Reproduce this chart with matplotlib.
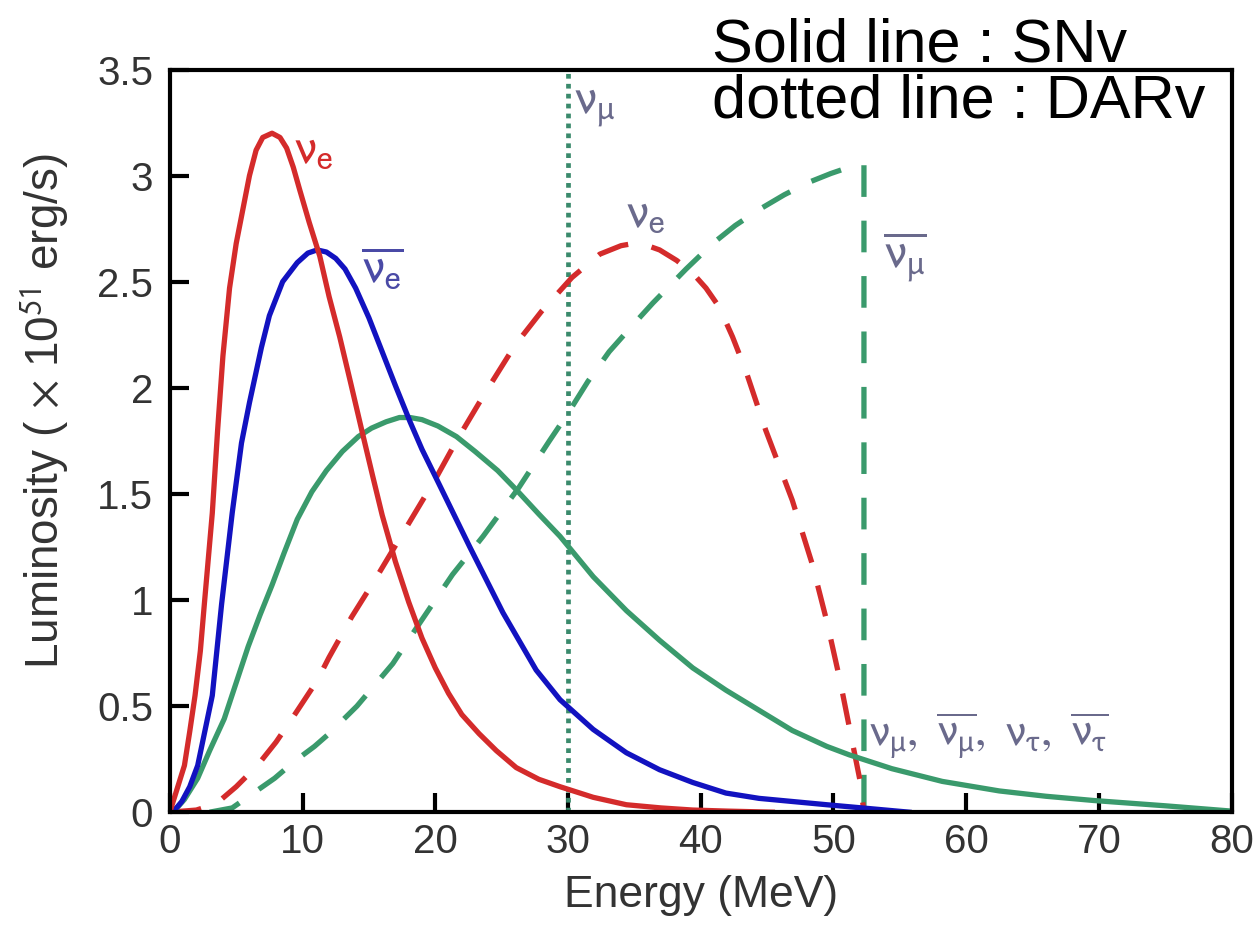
import matplotlib.pyplot as plt

plt.rcParams['font.family'] = ['Liberation Sans', 'DejaVu Sans']
plt.rcParams['mathtext.fontset'] = 'stixsans'

# supernova neutrinos (solid)
sn_nue_E = [0, 0.15, 0.6, 1.1, 1.5, 1.9, 2.3, 2.6, 3.2, 3.6, 4.0, 4.5, 5.0, 5.5, 6.0, 6.5, 7.0, 7.7,
            8.3, 8.8, 9.3, 9.8, 10.5, 11.3, 12.0, 12.8, 13.6, 14.5, 15.3, 16.0, 17.0, 18.0, 19.0, 20.0,
            21.0, 22.0, 23.3, 24.6, 26.1, 27.8, 29.4, 31.9, 34.4, 37, 39.4, 42, 45.4]
sn_nue_L = [0, 0.03, 0.12, 0.22, 0.38, 0.55, 0.76, 0.98, 1.41, 1.80, 2.15, 2.47, 2.68, 2.84, 3.0, 3.12, 3.18, 3.20,
            3.18, 3.13, 3.04, 2.93, 2.78, 2.62, 2.43, 2.24, 2.03, 1.79, 1.58, 1.40, 1.18, 0.99, 0.82, 0.68,
            0.56, 0.46, 0.37, 0.29, 0.21, 0.155, 0.12, 0.07, 0.035, 0.02, 0.01, 0.005, 0]

sn_nuebar_E = [0, 0.5, 0.9, 1.5, 2.1, 2.6, 3.2, 3.9, 4.7, 5.4, 6.0, 6.9, 7.5, 8.5, 9.6, 10.4, 11.1, 11.8,
               12.5, 13.2, 14.0, 15.0, 16.0, 17.0, 18.1, 19.0, 20.1, 22.6, 25.1, 27.6, 29.4, 31.9, 34.4,
               36.9, 39.4, 41.9, 44.4, 49.5, 55.7]
sn_nuebar_L = [0, 0.02, 0.05, 0.12, 0.22, 0.37, 0.55, 0.98, 1.41, 1.74, 1.93, 2.19, 2.34, 2.50, 2.59, 2.635, 2.65, 2.64,
               2.61, 2.56, 2.47, 2.33, 2.17, 2.01, 1.84, 1.71, 1.57, 1.25, 0.94, 0.67, 0.53, 0.39, 0.28,
               0.20, 0.14, 0.09, 0.065, 0.035, 0]

sn_nux_E = [0, 0.4, 1.1, 2.1, 3.0, 4.1, 5.0, 5.9, 6.8, 7.7, 8.6, 9.6, 10.7, 11.8, 13.0, 14.2, 15.2, 16.3,
            17.3, 18.1, 19.0, 20.2, 21.6, 23.0, 24.7, 26.1, 27.8, 29.4, 31.9, 34.4, 36.9, 39.4, 41.9, 44.4,
            46.9, 49.5, 51.2, 54.4, 58.2, 62.5, 66, 69.6, 75, 80]
sn_nux_L = [0, 0.01, 0.06, 0.16, 0.29, 0.44, 0.61, 0.78, 0.93, 1.07, 1.22, 1.38, 1.51, 1.61, 1.70, 1.77, 1.81, 1.84,
            1.86, 1.86, 1.85, 1.82, 1.77, 1.70, 1.61, 1.52, 1.405, 1.30, 1.11, 0.95, 0.81, 0.68, 0.575, 0.48,
            0.385, 0.31, 0.27, 0.205, 0.145, 0.10, 0.075, 0.055, 0.03, 0.005]

# decay-at-rest neutrinos (dashed)
dar_nue_E = [0, 2.0, 3.5, 5.0, 6.6, 8.0, 9.2, 11.1, 12.0, 13.7, 15.6, 17.8, 20.1, 21.6, 23.6, 26.0, 28.0,
             30.3, 32.4, 34.0, 34.9, 36.0, 36.9, 38.2, 39.4, 40.4, 41.4, 42.4, 43.4, 44.9, 46.9, 48.4,
             49.5, 50.5, 51.2, 52.0, 52.3]
dar_nue_L = [0, 0.01, 0.04, 0.12, 0.22, 0.33, 0.44, 0.62, 0.73, 0.92, 1.11, 1.34, 1.58, 1.75, 1.96, 2.20, 2.36,
             2.52, 2.63, 2.67, 2.68, 2.67, 2.65, 2.60, 2.54, 2.47, 2.38, 2.24, 2.08, 1.80, 1.47, 1.17,
             0.90, 0.62, 0.40, 0.15, 0.0]

dar_numubar_E = [3.0, 4.7, 6.3, 7.9, 9.4, 10.9, 12.0, 14.1, 16.8, 18.6, 21.3, 23.6, 26.3, 28.6, 30.0,
                 31.5, 33.1, 34.8, 36.4, 38.9, 40.9, 42.6, 44.4, 46.3, 48.2, 49.8, 51.2, 52.3, 52.3]
dar_numubar_L = [0, 0.02, 0.09, 0.16, 0.24, 0.31, 0.37, 0.50, 0.70, 0.87, 1.12, 1.30, 1.53, 1.75, 1.88,
                 2.03, 2.17, 2.29, 2.40, 2.56, 2.68, 2.765, 2.84, 2.91, 2.97, 3.01, 3.04, 3.05, 0]

numu_line_E = 30

red = '#d42b2b'
blue = '#1212c0'
green = '#3a9a6c'
label_gray = '#6a6a8c'
text_col = '#333333'

fig = plt.figure(figsize=(12.58, 9.40), dpi=100)
ax = fig.add_axes([0.135, 0.136, 0.844, 0.790])

lw = 3.8
ax.axvline(numu_line_E, color='#3a8a6c', lw=3.4, linestyle=(0, (1, 1.1)))
ax.plot(dar_numubar_E, dar_numubar_L, color=green, lw=lw, dashes=(6, 4.5))
ax.plot(dar_nue_E, dar_nue_L, color=red, lw=lw, dashes=(6, 4.5))
ax.plot(sn_nux_E, sn_nux_L, color=green, lw=lw)
ax.plot(sn_nuebar_E, sn_nuebar_L, color=blue, lw=lw)
ax.plot(sn_nue_E, sn_nue_L, color=red, lw=lw)

ax.set_xlim(0, 80)
ax.set_ylim(0, 3.5)
ax.set_xticks([0, 10, 20, 30, 40, 50, 60, 70, 80])
ax.set_yticks([0, 0.5, 1, 1.5, 2, 2.5, 3, 3.5])
ax.set_yticklabels(['0', '0.5', '1', '1.5', '2', '2.5', '3', '3.5'])
ax.tick_params(direction='in', length=14, width=3, labelsize=29, colors=text_col,
               top=False, right=False)
ax.tick_params(axis='y', pad=12)
ax.tick_params(axis='x', pad=8)
ax.tick_params(axis='both', color='black')
for s in ax.spines.values():
    s.set_linewidth(3)

ax.set_xlabel('Energy (MeV)', fontsize=32, color=text_col, labelpad=10)
ax.set_ylabel(r'Luminosity ( $\times$ 10$^{51}$ erg/s)', fontsize=33, color=text_col)
ax.yaxis.set_label_coords(-0.092, 0.54)

# curve labels
fs = 36
ax.text(10.8, 3.12, r'$\mathrm{\nu_e}$', color=red, fontsize=fs, ha='center', va='center')
ax.text(16.0, 2.56, r'$\mathrm{\overline{\nu_e}}$', color='#4a4aa6', fontsize=fs, ha='center', va='center')
ax.text(32.0, 3.33, r'$\mathrm{\nu_\mu}$', color=label_gray, fontsize=fs, ha='center', va='center')
ax.text(35.8, 2.82, r'$\mathrm{\nu_e}$', color=label_gray, fontsize=fs, ha='center', va='center')
ax.text(55.4, 2.62, r'$\mathrm{\overline{\nu_\mu}}$', color=label_gray, fontsize=fs, ha='center', va='center')
ax.text(52.6, 0.36, r'$\mathrm{\nu_\mu,\ \overline{\nu_\mu},\ \nu_\tau,\ \overline{\nu_\tau}}$', color=label_gray,
        fontsize=33, ha='left', va='center')

fig.text(0.566, 0.935, 'Solid line : SNv', fontsize=44, color='black', ha='left', va='baseline')
fig.text(0.566, 0.875, 'dotted line : DARv', fontsize=44, color='black', ha='left', va='baseline')

fig.savefig('out.png', dpi=100)
